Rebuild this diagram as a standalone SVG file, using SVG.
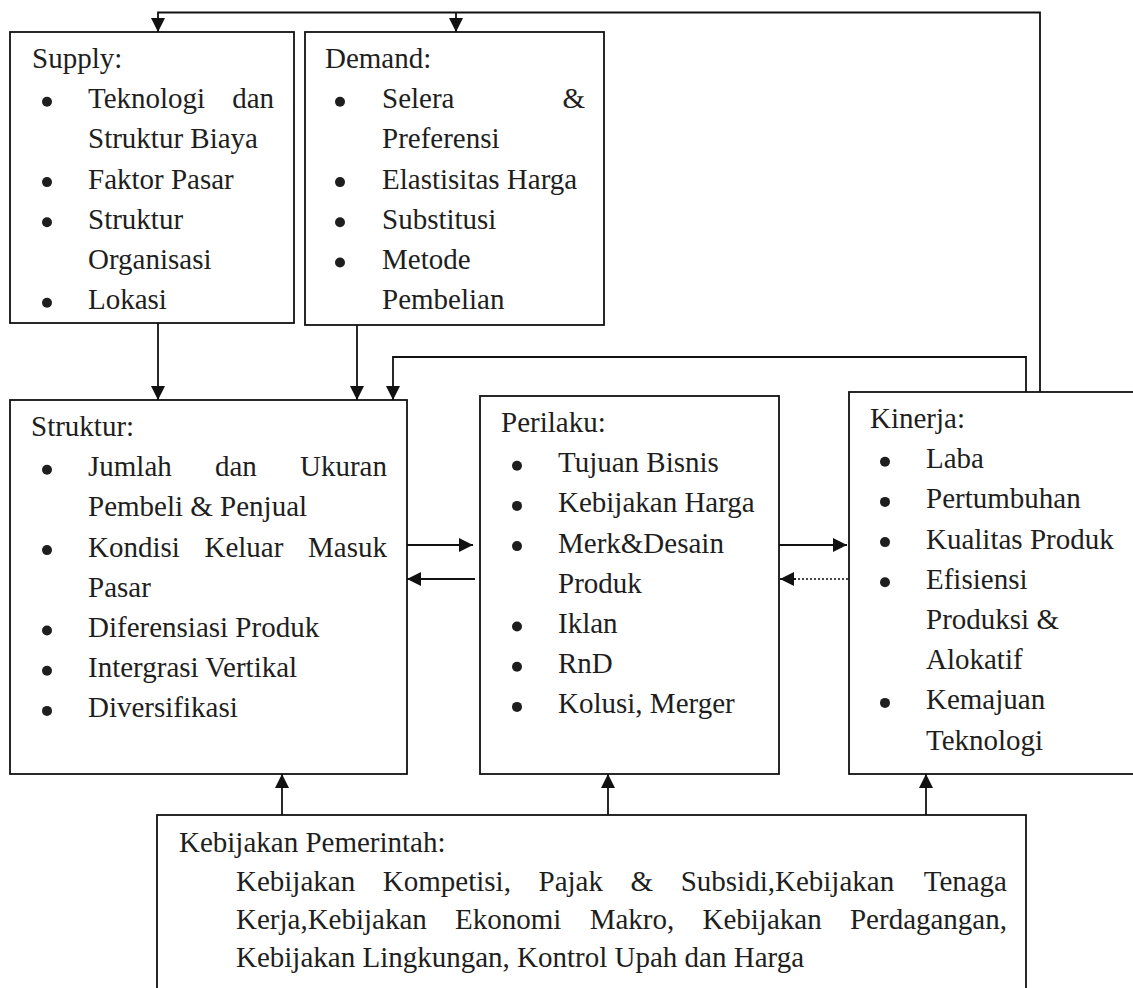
<svg xmlns="http://www.w3.org/2000/svg" width="1133" height="988" viewBox="0 0 1133 988">
<style>
.box{fill:#fff;stroke:#111;stroke-width:1.8}
.t{font-family:"Liberation Serif","Times New Roman",serif;font-size:29px;fill:#1e1e1e}
.e{text-anchor:end}
.b{fill:#1e1e1e}
.c{fill:none;stroke:#111;stroke-width:1.8}
.d{fill:none;stroke:#111;stroke-width:1.6;stroke-dasharray:2,2}
</style>
<defs>
<marker id="ah" markerUnits="userSpaceOnUse" markerWidth="14" markerHeight="14" refX="14" refY="7" orient="auto">
<path d="M0,0 L14,7 L0,14 z" fill="#111"/>
</marker>
</defs>
<rect width="1133" height="988" fill="#fff"/>

<g id="supply">
<rect class="box" x="10" y="32" width="284" height="291"/>
<text class="t" x="32" y="68">Supply:</text>
<circle class="b" cx="47" cy="101.7" r="5"/>
<text class="t" x="88" y="108.2">Teknologi</text><text class="t e" x="274" y="108.2">dan</text>
<text class="t" x="88" y="148.4">Struktur Biaya</text>
<circle class="b" cx="47" cy="182.1" r="5"/>
<text class="t" x="88" y="188.6">Faktor Pasar</text>
<circle class="b" cx="47" cy="222.3" r="5"/>
<text class="t" x="88" y="228.8">Struktur</text>
<text class="t" x="88" y="269">Organisasi</text>
<circle class="b" cx="47" cy="302.7" r="5"/>
<text class="t" x="88" y="309.2">Lokasi</text>
</g>

<g id="demand">
<rect class="box" x="305" y="32" width="299" height="293"/>
<text class="t" x="325" y="68">Demand:</text>
<circle class="b" cx="340" cy="101.7" r="5"/>
<text class="t" x="382" y="108.2">Selera</text><text class="t e" x="585" y="108.2">&amp;</text>
<text class="t" x="382" y="148.4">Preferensi</text>
<circle class="b" cx="340" cy="182.1" r="5"/>
<text class="t" x="382" y="188.6">Elastisitas Harga</text>
<circle class="b" cx="340" cy="222.3" r="5"/>
<text class="t" x="382" y="228.8">Substitusi</text>
<circle class="b" cx="340" cy="262.5" r="5"/>
<text class="t" x="382" y="269">Metode</text>
<text class="t" x="382" y="309.2">Pembelian</text>
</g>

<g id="struktur">
<rect class="box" x="10" y="400" width="397" height="374"/>
<text class="t" x="31" y="436">Struktur:</text>
<circle class="b" cx="47" cy="469.7" r="5"/>
<text class="t" x="88" y="476.2">Jumlah</text><text class="t" x="215" y="476.2">dan</text><text class="t e" x="387" y="476.2">Ukuran</text>
<text class="t" x="88" y="516.4">Pembeli &amp; Penjual</text>
<circle class="b" cx="47" cy="550.1" r="5"/>
<text class="t" x="88" y="556.6">Kondisi</text><text class="t" x="204.5" y="556.6">Keluar</text><text class="t e" x="387" y="556.6">Masuk</text>
<text class="t" x="88" y="596.8">Pasar</text>
<circle class="b" cx="47" cy="630.5" r="5"/>
<text class="t" x="88" y="637">Diferensiasi Produk</text>
<circle class="b" cx="47" cy="670.7" r="5"/>
<text class="t" x="88" y="677.2">Intergrasi Vertikal</text>
<circle class="b" cx="47" cy="710.9" r="5"/>
<text class="t" x="88" y="717.4">Diversifikasi</text>
</g>

<g id="perilaku">
<rect class="box" x="480" y="396" width="299" height="378"/>
<text class="t" x="501" y="432">Perilaku:</text>
<circle class="b" cx="517" cy="465.7" r="5"/>
<text class="t" x="558" y="472.2">Tujuan Bisnis</text>
<circle class="b" cx="517" cy="505.9" r="5"/>
<text class="t" x="558" y="512.4">Kebijakan Harga</text>
<circle class="b" cx="517" cy="546.1" r="5"/>
<text class="t" x="558" y="552.6">Merk&amp;Desain</text>
<text class="t" x="558" y="592.8">Produk</text>
<circle class="b" cx="517" cy="626.5" r="5"/>
<text class="t" x="558" y="633">Iklan</text>
<circle class="b" cx="517" cy="666.7" r="5"/>
<text class="t" x="558" y="673.2">RnD</text>
<circle class="b" cx="517" cy="706.9" r="5"/>
<text class="t" x="558" y="713.4">Kolusi, Merger</text>
</g>

<g id="kinerja">
<rect class="box" x="849" y="392" width="300" height="382"/>
<text class="t" x="870" y="428">Kinerja:</text>
<circle class="b" cx="885" cy="461.7" r="5"/>
<text class="t" x="926" y="468.2">Laba</text>
<circle class="b" cx="885" cy="501.9" r="5"/>
<text class="t" x="926" y="508.4">Pertumbuhan</text>
<circle class="b" cx="885" cy="542.1" r="5"/>
<text class="t" x="926" y="548.6">Kualitas Produk</text>
<circle class="b" cx="885" cy="582.3" r="5"/>
<text class="t" x="926" y="588.8">Efisiensi</text>
<text class="t" x="926" y="629">Produksi &amp;</text>
<text class="t" x="926" y="669.2">Alokatif</text>
<circle class="b" cx="885" cy="702.9" r="5"/>
<text class="t" x="926" y="709.4">Kemajuan</text>
<text class="t" x="926" y="749.6">Teknologi</text>
</g>

<g id="kebijakan">
<rect class="box" x="157" y="815" width="869" height="200"/>
<text class="t" x="179" y="852.3">Kebijakan Pemerintah:</text>
<text class="t" x="236" y="890.7">Kebijakan</text><text class="t" x="382.8" y="890.7">Kompetisi,</text><text class="t" x="538.5" y="890.7">Pajak</text><text class="t" x="630.5" y="890.7">&amp;</text><text class="t" x="680.7" y="890.7">Subsidi,Kebijakan</text><text class="t e" x="1007" y="890.7">Tenaga</text>
<text class="t" x="236" y="929">Kerja,Kebijakan</text><text class="t" x="455.1" y="929">Ekonomi</text><text class="t" x="589.7" y="929">Makro,</text><text class="t" x="702.5" y="929">Kebijakan</text><text class="t e" x="1007" y="929">Perdagangan,</text>
<text class="t" x="236" y="967.3">Kebijakan Lingkungan, Kontrol Upah dan Harga</text>
</g>

<g id="connectors">
<path class="c" d="M1040,392 V12.5 H158 V32" marker-end="url(#ah)"/>
<path class="c" d="M456,12.5 V32" marker-end="url(#ah)"/>
<path class="c" d="M1026,392 V357 H393 V400" marker-end="url(#ah)"/>
<path class="c" d="M158,323 V400" marker-end="url(#ah)"/>
<path class="c" d="M357,325 V400" marker-end="url(#ah)"/>
<path class="c" d="M407,545 H473" marker-end="url(#ah)"/>
<path class="c" d="M475,579 H407" marker-end="url(#ah)"/>
<path class="c" d="M779,545 H847" marker-end="url(#ah)"/>
<path class="d" d="M848,579 H794"/>
<path class="c" d="M796,579 H780" marker-end="url(#ah)"/>
<path class="c" d="M282,815 V774" marker-end="url(#ah)"/>
<path class="c" d="M608,815 V774" marker-end="url(#ah)"/>
<path class="c" d="M926,815 V774" marker-end="url(#ah)"/>
</g>
</svg>
